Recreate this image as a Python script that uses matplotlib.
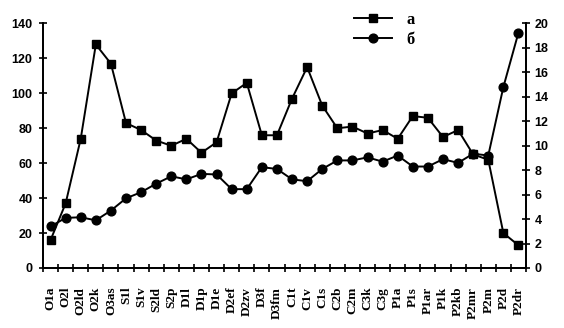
import matplotlib
matplotlib.use("Agg")
import matplotlib.pyplot as plt
import numpy as np
from matplotlib.ticker import FixedLocator, NullFormatter

categories = ["O1a", "O2l", "O2ld", "O2k", "O3as", "S1l", "S1v", "S2ld", "S2p", "D1l",
              "D1p", "D1e", "D2ef", "D2zv", "D3f", "D3fm", "C1t", "C1v", "C1s", "C2b",
              "C2m", "C3k", "C3g", "P1a", "P1s", "P1ar", "P1k", "P2kb", "P2mr", "P2m",
              "P2d", "P2dr"]
series_a = [16, 37, 74, 128, 117, 83, 79, 73, 70, 74,
            66, 72, 100, 106, 76, 76, 97, 115, 93, 80,
            81, 77, 79, 74, 87, 86, 75, 79, 65, 62,
            20, 13]
series_b = [3.4, 4.1, 4.15, 3.9, 4.7, 5.7, 6.2, 6.9, 7.5, 7.25,
            7.7, 7.65, 6.45, 6.45, 8.25, 8.1, 7.25, 7.1, 8.1, 8.8,
            8.8, 9.05, 8.7, 9.2, 8.3, 8.3, 8.9, 8.6, 9.35, 9.2,
            14.8, 19.25]
left_ticks = [0, 20, 40, 60, 80, 100, 120, 140]
right_ticks = [0, 2, 4, 6, 8, 10, 12, 14, 16, 18, 20]
legend_labels = ["а", "б"]

fig = plt.figure(figsize=(5.64, 3.28), dpi=100)
ax = fig.add_axes([43/564, 1-268/328, (526-43)/564, (268-23.5)/328])
ax2 = ax.twinx()

x = np.arange(len(categories))
la, = ax.plot(x, series_a, color="black", lw=1.4, marker="s", ms=6.2, zorder=3)
lb, = ax2.plot(x, series_b, color="black", lw=1.4, marker="o", ms=6.3, zorder=3)

ax.set_xlim(-0.5, len(categories) - 0.5)
ax.set_ylim(0, 140)
ax2.set_ylim(0, 20)

for a in (ax, ax2):
    a.spines["top"].set_visible(False)
    for s in a.spines.values():
        s.set_linewidth(1.3)

ax.set_yticks(left_ticks)
ax2.set_yticks(right_ticks)
ax.tick_params(axis="y", direction="inout", length=6, width=1.2, pad=4.5)
ax2.tick_params(axis="y", direction="inout", length=6, width=1.2, pad=3)
for lab in ax.get_yticklabels() + ax2.get_yticklabels():
    lab.set_fontfamily("Liberation Sans")
    lab.set_fontweight("bold")
    lab.set_fontsize(9)

ax.set_xticks(x)
ax.set_xticklabels(categories, rotation=90, fontfamily="Liberation Serif",
                   fontweight="bold", fontsize=9.5)
ax.tick_params(axis="x", which="major", length=0, pad=13.5)
ax.xaxis.set_minor_locator(FixedLocator(np.arange(-0.5, len(categories), 1.0)))
ax.xaxis.set_minor_formatter(NullFormatter())
ax.tick_params(axis="x", which="minor", direction="inout", length=6, width=1.2)

leg = fig.legend([la, lb], legend_labels, loc="upper left",
                 bbox_to_anchor=(354/564, 1-12/328), frameon=False,
                 borderpad=0, borderaxespad=0, handlelength=2.3,
                 handletextpad=0.85, labelspacing=0.25,
                 prop={"family": "Liberation Serif", "weight": "bold", "size": 12})

fig.savefig("out.png", dpi=100)
